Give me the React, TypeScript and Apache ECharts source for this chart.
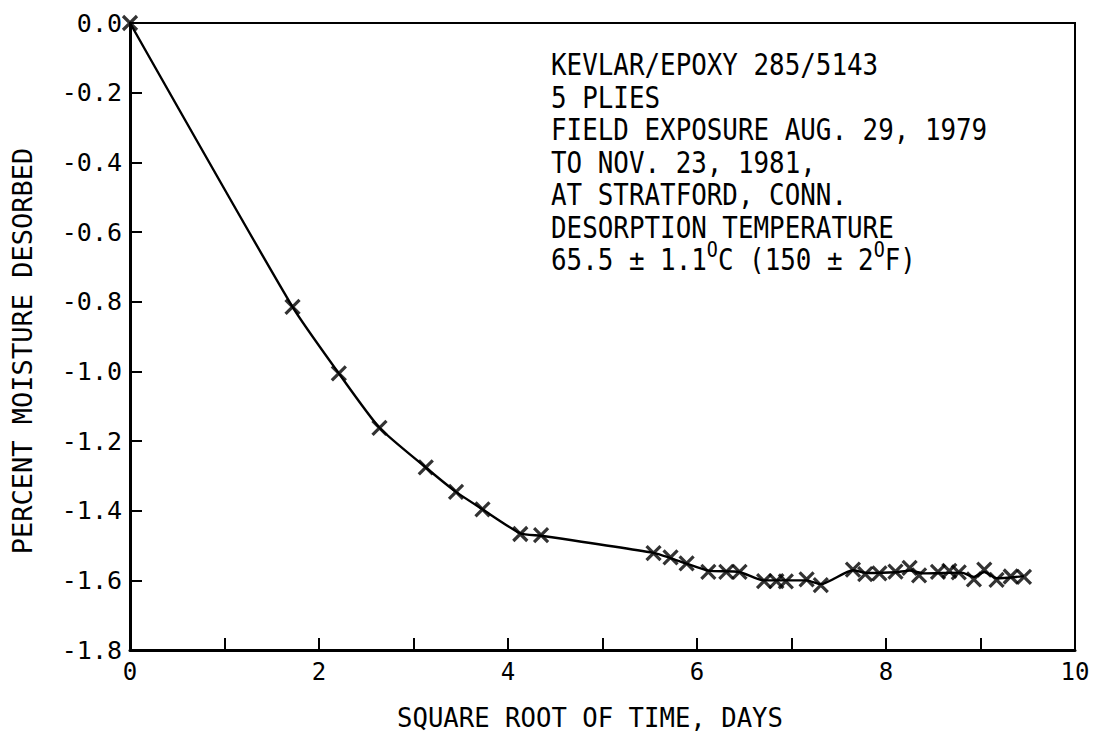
import React, { useEffect, useRef } from "react";
import * as echarts from "echarts";

// Measured points (sqrt of time in days, percent moisture desorbed)
const pointX = [0, 1.72, 2.21, 2.64, 3.13, 3.45, 3.73, 4.13, 4.35, 5.54, 5.72, 5.89, 6.12, 6.31, 6.45, 6.71, 6.84, 6.94, 7.16, 7.31, 7.65, 7.78, 7.93, 8.1, 8.25, 8.35, 8.55, 8.67, 8.77, 8.93, 9.04, 9.17, 9.32, 9.46];
const pointY = [0, -0.815, -1.006, -1.162, -1.276, -1.346, -1.396, -1.467, -1.47, -1.522, -1.534, -1.551, -1.576, -1.576, -1.576, -1.602, -1.602, -1.603, -1.597, -1.614, -1.569, -1.582, -1.58, -1.575, -1.564, -1.586, -1.576, -1.573, -1.577, -1.597, -1.569, -1.599, -1.589, -1.59];

// Drawn curve through the data
const curveX = [0, 1.72, 2.21, 2.64, 3.13, 3.45, 3.73, 4.13, 4.35, 5.54, 5.72, 5.89, 6.12, 6.45, 6.7, 7.16, 7.31, 7.65, 7.8, 8.1, 8.25, 8.4, 8.8, 8.93, 9.04, 9.17, 9.46];
const curveY = [0, -0.815, -1.006, -1.162, -1.276, -1.346, -1.396, -1.465, -1.472, -1.521, -1.536, -1.552, -1.572, -1.576, -1.6, -1.6, -1.611, -1.571, -1.579, -1.577, -1.572, -1.58, -1.578, -1.59, -1.576, -1.594, -1.588];

const xTicks = { min: 0, max: 10, interval: 2 };
const yTicks = { min: -1.8, max: 0, interval: 0.2 };

const infoLines = [
  "KEVLAR/EPOXY 285/5143",
  "5 PLIES",
  "FIELD EXPOSURE AUG. 29, 1979",
  "TO NOV. 23, 1981,",
  "AT STRATFORD, CONN.",
  "DESORPTION TEMPERATURE",
  "65.5 ± 1.1{sup|O}C (150 ± 2{sup|O}F)",
];

const xTitle = "SQUARE ROOT OF TIME, DAYS";
const yTitle = "PERCENT MOISTURE DESORBED";

const MONO = "'DejaVu Sans Mono', 'Liberation Mono', monospace";

export default function App() {
  const ref = useRef<HTMLDivElement>(null);
  useEffect(() => {
    document.body.style.margin = "0";
    if (!ref.current) return;
    const chart = echarts.init(ref.current, undefined, { renderer: "svg" });
    const infoGraphics = infoLines.map((t, i) => ({
      type: "text",
      x: 551,
      y: 80 + i * 32.5 + (i === infoLines.length - 1 ? 5 : 0),
      scaleX: 0.835,
      style: {
        text: t,
        fill: "#000",
        fontFamily: MONO,
        fontSize: 31,
        textAlign: "left",
        textVerticalAlign: "bottom",
        rich: {
          sup: { fontSize: 22, fontFamily: MONO, verticalAlign: "top", lineHeight: 42, fill: "#000" },
        },
      },
    }));
    chart.setOption({
      animation: false,
      backgroundColor: "#fff",
      grid: {
        left: 130,
        right: 18,
        top: 23,
        bottom: 88,
        show: true,
        borderColor: "#000",
        borderWidth: 2,
        backgroundColor: "transparent",
      },
      xAxis: {
        type: "value",
        min: xTicks.min,
        max: xTicks.max,
        interval: xTicks.interval,
        axisLine: { onZero: false, lineStyle: { color: "#000", width: 3 } },
        axisTick: { inside: true, length: 12, lineStyle: { color: "#000", width: 2 } },
        minorTick: { show: true, splitNumber: 2, length: 12, lineStyle: { color: "#000", width: 2 } },
        splitLine: { show: false },
        axisLabel: { color: "#000", fontFamily: MONO, fontSize: 24, margin: 10 },
      },
      yAxis: {
        type: "value",
        min: yTicks.min,
        max: yTicks.max,
        interval: yTicks.interval,
        axisLine: { onZero: false, lineStyle: { color: "#000", width: 3 } },
        axisTick: { inside: true, length: 12, lineStyle: { color: "#000", width: 2 } },
        splitLine: { show: false },
        axisLabel: {
          color: "#000",
          fontFamily: MONO,
          fontSize: 25,
          margin: 8,
          formatter: (v: number) => v.toFixed(1),
        },
      },
      graphic: [
        ...infoGraphics,
        {
          type: "text",
          x: 590,
          y: 718,
          scaleX: 0.95,
          style: {
            text: xTitle,
            fill: "#000",
            fontFamily: MONO,
            fontSize: 27,
            textAlign: "center",
            textVerticalAlign: "middle",
          },
        },
        {
          type: "text",
          x: 22,
          y: 351,
          rotation: Math.PI / 2,
          style: {
            text: yTitle,
            fill: "#000",
            fontFamily: MONO,
            fontSize: 27,
            textAlign: "center",
            textVerticalAlign: "middle",
          },
        },
      ],
      series: [
        {
          type: "line",
          data: curveX.map((x, i) => [x, curveY[i]]),
          showSymbol: false,
          smooth: 0.2,
          lineStyle: { color: "#000", width: 2.4 },
          z: 2,
        },
        {
          type: "scatter",
          data: pointX.map((x, i) => [x, pointY[i]]),
          symbol: "path://M0,0L10,10M10,0L0,10",
          symbolSize: 14,
          itemStyle: { color: "transparent", borderColor: "#000", borderWidth: 3.2 },
          z: 3,
        },
      ],
    });
    return () => chart.dispose();
  }, []);
  return <div ref={ref} style={{ width: 1093, height: 738 }} />;
}
